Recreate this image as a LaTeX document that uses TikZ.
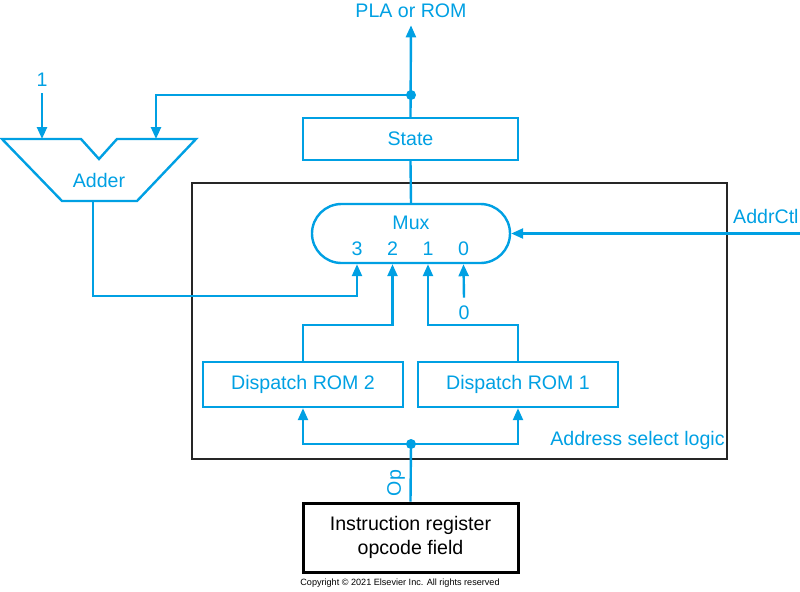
\documentclass[tikz,border=0pt]{standalone}
\usepackage{fontspec}
\setmainfont{Liberation Sans}
\usetikzlibrary{positioning,arrows.meta}
\definecolor{wireblue}{RGB}{0,160,227}
\newcommand{\lblfont}{\fontsize{9.8}{11.6}\selectfont}
\tikzset{
  wire/.style={draw=wireblue, line width=1.2pt},
  sig/.style={wire, -{Triangle[length=6pt,width=5pt]}},
  unit/.style={draw=wireblue, line width=1.2pt, text=wireblue, inner sep=0pt,
    minimum width=107.5pt, minimum height=21pt, font=\lblfont},
  lbl/.style={text=wireblue, font=\lblfont, inner sep=0pt},
  jdot/.style={circle, fill=wireblue, inner sep=0pt, minimum size=5pt},
}
\begin{document}
\begin{tikzpicture}[x=0.5pt,y=-0.5pt]
  \useasboundingbox (0,0) rectangle (800,591);
  \draw[black!85, line width=0.6pt] (192,183) rectangle (727,459);
  \node[lbl, anchor=east] (asl) at (725,440) {Address select logic};
  \node[unit] (state) at (410.5,139) {State};
  \node[unit, minimum width=99pt, minimum height=29.5pt, rounded corners=14.75pt] (mux) at (411,233.5) {};
  \node[lbl] (muxname) at (411,223) {Mux};
  \foreach \n/\x in {3/357,2/392.5,1/428,0/463.5}
    \node[lbl] (in\n) at (\x,249) {\n};
  \node[unit, minimum width=100pt, minimum height=22.5pt] (rom2) at (303,384.5) {Dispatch ROM 2};
  \node[unit, minimum width=100pt, minimum height=22.5pt, right=6.3pt of rom2] (rom1) {Dispatch ROM 1};
  \node[draw, line width=1.5pt, inner sep=0pt, minimum width=107.5pt, minimum height=34.5pt,
    align=center, font=\lblfont] (ir) at (410.5,537.5) {Instruction register\\opcode field};
  \node[font=\fontsize{4.55}{5}\selectfont, inner sep=0pt] (copy) at (400,583)
    {Copyright \textcopyright{} 2021 Elsevier Inc. All rights reserved};
  \node[lbl] (pla) at (411,11) {PLA or ROM};
  \node[lbl] (one) at (42,80) {1};
  \node[lbl] (zero) at (464,313) {0};
  \node[lbl, anchor=east] (addrctl) at (799,216) {AddrCtl};
  \node[lbl, rotate=90] (op) at (396,483) {Op};
  % adder
  \coordinate (adda) at (42,139);
  \coordinate (addb) at (156,139);
  \coordinate (addout) at (93,201);
  \draw[wire] (2,139) -- (81,139) -- (99,159) -- (117,139) -- (196,139)
    -- (137,201) -- (62,201) -- cycle;
  \node[lbl] (addname) at (99,180) {Adder};
  % wires
  \coordinate (fork) at (411,95);
  \coordinate (opfork) at (411,444);
  \coordinate (ctlin) at (800,233.5);
  \draw[sig] (state.north) -- ([yshift=-3.5pt]pla.south);
  \draw[sig] (fork) -| (addb);
  \node[jdot] at (fork) {};
  \draw[sig] ([yshift=-3pt]one.south) -- (adda);
  \draw[wire] (state.south) -- (mux.north);
  \draw[sig] (ctlin) -- (mux.east);
  \draw[sig] (addout) -- ++(0,95) -| (in3 |- mux.south);
  \draw[sig] (rom2.north) -- ++(0,-36) -| (in2 |- mux.south);
  \draw[sig] (rom1.north) -- ++(0,-36) -| (in1 |- mux.south);
  \draw[sig] ([yshift=4pt]zero.north) -- (in0 |- mux.south);
  \draw[wire] (ir.north) -- (opfork);
  \draw[sig] (opfork) -| (rom2.south);
  \draw[sig] (opfork) -| (rom1.south);
  \node[jdot] at (opfork) {};
\end{tikzpicture}
\end{document}
